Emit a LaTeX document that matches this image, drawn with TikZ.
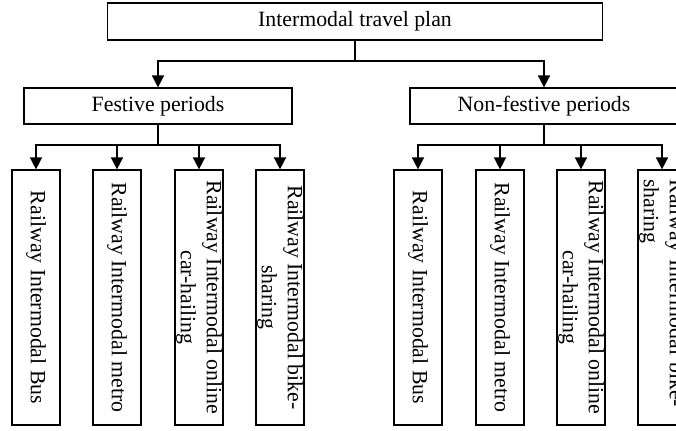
\documentclass[tikz,border=0pt]{standalone}
\usepackage{fontspec}
\setmainfont{Liberation Serif}
\usetikzlibrary{arrows.meta}

\tikzset{
  box/.style = {draw, line width=0.6pt, inner sep=0pt, font=\fontsize{10.9}{13}\selectfont},
  leaf/.style = {box, rotate=-90, minimum width=127.5pt, minimum height=24pt, align=center},
  leafL/.style = {leaf, align=left, text width=118pt, inner xsep=4pt},
  arr/.style = {line width=0.8pt, -{Triangle[width=6pt,length=6pt]}},
  ln/.style = {line width=0.8pt}
}

\begin{document}
\begin{tikzpicture}[x=0.5pt, y=-0.5pt]
\clip (0,0) rectangle (676,430);

\node[box, minimum width=247.5pt, minimum height=18.5pt] (plan) at (355,21.5) {Intermodal travel plan};
\node[box, minimum width=134pt, minimum height=18pt] (fest) at (158,106) {Festive periods};
\node[box, minimum width=134pt, minimum height=18pt] (nonfest) at (544,106) {Non-festive periods};

\coordinate (j0) at (355,61);
\draw[ln] (plan.south) -- (j0);
\draw[arr] (j0) -| (fest.north);
\draw[arr] (j0) -| (nonfest.north);

% festive periods
\node[leaf] (f1) at (36,297.5) {Railway Intermodal Bus};
\node[leaf] (f2) at (117,297.5) {Railway Intermodal metro};
\node[leaf] (f3) at (199,297.5) {Railway Intermodal online\\car-hailing};
\node[leaf] (f4) at (280,297.5) {Railway Intermodal bike-\\sharing};

\coordinate (j1) at (158,145);
\draw[ln] (fest.south) -- (j1);
\foreach \i in {1,...,4}
  \draw[arr] (j1) -| (f\i.west);

% non-festive periods
\node[leaf] (n1) at (418,297.5) {Railway Intermodal Bus};
\node[leaf] (n2) at (500,297.5) {Railway Intermodal metro};
\node[leaf] (n3) at (581,297.5) {Railway Intermodal online\\car-hailing};
\node[leafL] (n4) at (662,297.5) {Railway Intermodal bike-\\sharing};

\coordinate (j2) at (544,145);
\draw[ln] (nonfest.south) -- (j2);
\foreach \i in {1,...,4}
  \draw[arr] (j2) -| (n\i.west);
\end{tikzpicture}
\end{document}
